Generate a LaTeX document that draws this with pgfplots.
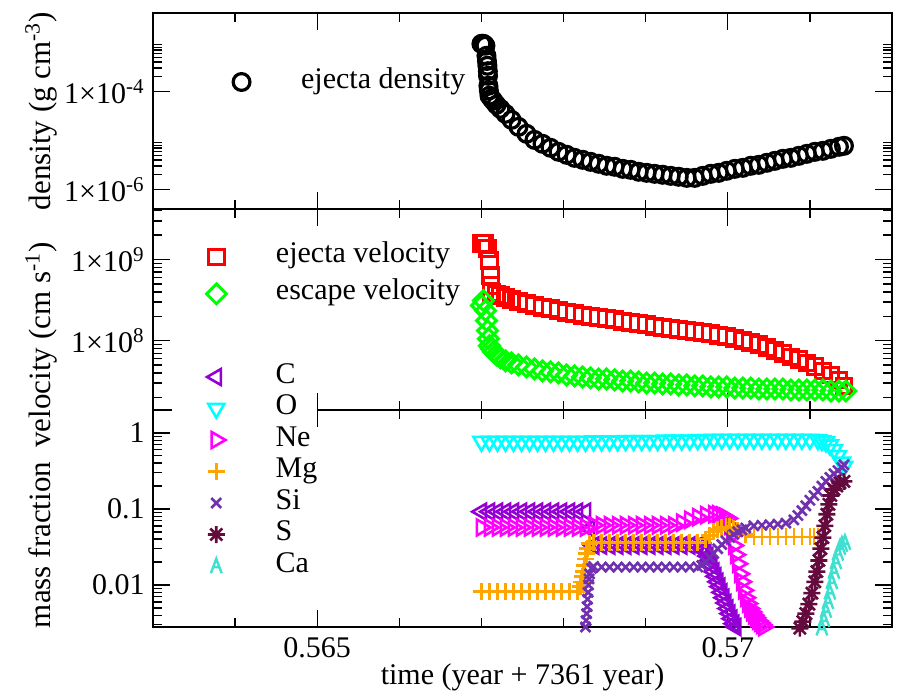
\documentclass[border=0pt]{standalone}
\usepackage{fontspec}
\setmainfont{Liberation Serif}
\usepackage{pgfplots}
\pgfplotsset{compat=1.18}
\definecolor{cC}{HTML}{9400D3}
\definecolor{cO}{HTML}{00FFFF}
\definecolor{cNe}{HTML}{FF00FF}
\definecolor{cMg}{HTML}{FFA500}
\definecolor{cSi}{HTML}{7030B0}
\definecolor{cS}{HTML}{640A3C}
\definecolor{cCa}{HTML}{40E0D0}
\definecolor{cR}{HTML}{FF0000}
\definecolor{cG}{HTML}{00FF00}
\pgfdeclareplotmark{gpstar}{%
  \pgfpathmoveto{\pgfqpoint{-\pgfplotmarksize}{0pt}}\pgfpathlineto{\pgfqpoint{\pgfplotmarksize}{0pt}}%
  \pgfpathmoveto{\pgfqpoint{0pt}{-\pgfplotmarksize}}\pgfpathlineto{\pgfqpoint{0pt}{\pgfplotmarksize}}%
  \pgfpathmoveto{\pgfqpoint{-0.7071\pgfplotmarksize}{-0.7071\pgfplotmarksize}}\pgfpathlineto{\pgfqpoint{0.7071\pgfplotmarksize}{0.7071\pgfplotmarksize}}%
  \pgfpathmoveto{\pgfqpoint{-0.7071\pgfplotmarksize}{0.7071\pgfplotmarksize}}\pgfpathlineto{\pgfqpoint{0.7071\pgfplotmarksize}{-0.7071\pgfplotmarksize}}%
  \pgfusepathqstroke}
\pgfdeclareplotmark{gpA}{%
  \pgfpathmoveto{\pgfqpoint{-0.75\pgfplotmarksize}{-\pgfplotmarksize}}%
  \pgfpathlineto{\pgfqpoint{0pt}{\pgfplotmarksize}}%
  \pgfpathlineto{\pgfqpoint{0.75\pgfplotmarksize}{-\pgfplotmarksize}}%
  \pgfpathmoveto{\pgfqpoint{-0.43\pgfplotmarksize}{-0.15\pgfplotmarksize}}%
  \pgfpathlineto{\pgfqpoint{0.43\pgfplotmarksize}{-0.15\pgfplotmarksize}}%
  \pgfusepathqstroke}
\pgfplotsset{
  legend image code/.code={\path (0pt,0pt) (50.5pt,0pt);\draw[mark repeat=2,mark phase=2,#1] plot coordinates {(0pt,0pt) (21.5pt,0pt) (43pt,0pt)};},
}
\pgfplotsset{
  myframe/.style={scale only axis, width=369.5pt, xmin=0.563, xmax=0.572,
    xtick={0.565,0.57}, minor xtick={0.564,0.566,0.567,0.568,0.569,0.571},
    major tick length=8.5pt, minor tick length=4.5pt,
    tick style={black,line width=0.7pt}, axis line style={line width=0.9pt},
    tick align=inside, legend cell align=left,
    yticklabel style={inner xsep=4pt}},
  mylegend/.style={legend style={draw=none, fill=none, inner sep=0pt, outer sep=0pt, anchor=north west,
      nodes={inner sep=0pt, text height=10pt, text depth=4pt}}},
}
\begin{document}
\fontsize{15}{18}\selectfont
\begin{tikzpicture}[font=\fontsize{15}{18}\selectfont]
\useasboundingbox (0,0) rectangle (450.5pt,346pt);
% ---------------- panel 1: density
\begin{semilogyaxis}[myframe, mylegend, at={(76.5pt,339.5pt)}, anchor=north west, height=98pt,
  ymin=4e-7, ymax=4e-3, xticklabels={},
  ytick={1e-6,1e-4}, yticklabels={1×10\textsuperscript{-6},1×10\textsuperscript{-4}},
  minor ytick={2e-6,3e-6,4e-6,5e-6,6e-6,7e-6,8e-6,9e-6,2e-4,3e-4,4e-4,5e-4,6e-4,7e-4,8e-4,9e-4},
  legend style={at={(0.0595,0.7194)}}]
\addplot[only marks, mark=o, mark size=4.2pt, line width=1.6pt, black] coordinates {
(0.567000,9.4e-4) (0.567012,9.4e-4) (0.567024,9.4e-4) (0.567037,9.0e-4) (0.567049,8.6e-4)
(0.567061,5.35e-4) (0.567067,4.2e-4) (0.567073,3.35e-4) (0.567078,2.6e-4) (0.567080,2.09e-4)
(0.567085,1.31e-4) (0.567090,1.05e-4) (0.567098,8.2e-5) (0.567122,7.2e-5) (0.567146,6.46e-5)
(0.567183,5.35e-5) (0.567232,4.43e-5) (0.567293,3.51e-5) (0.567366,2.64e-5) (0.567451,1.90e-5)
(0.567549,1.37e-5) (0.567646,1.03e-5) (0.567744,8.56e-6) (0.567841,7.10e-6) (0.567939,5.88e-6)
(0.568037,5.11e-6) (0.568134,4.43e-6) (0.568232,4.04e-6) (0.568329,3.67e-6) (0.568427,3.35e-6)
(0.568524,3.05e-6) (0.568622,2.91e-6) (0.568720,2.64e-6) (0.568817,2.52e-6) (0.568915,2.30e-6)
(0.569012,2.19e-6) (0.569110,2.09e-6) (0.569207,2.00e-6) (0.569305,1.90e-6) (0.569402,1.82e-6)
(0.569500,1.73e-6) (0.569598,1.73e-6) (0.569695,1.90e-6) (0.569793,2.09e-6) (0.569890,2.19e-6)
(0.569988,2.41e-6) (0.570085,2.64e-6) (0.570183,2.77e-6) (0.570280,3.05e-6) (0.570378,3.19e-6)
(0.570476,3.51e-6) (0.570573,3.85e-6) (0.570671,4.23e-6) (0.570768,4.43e-6) (0.570866,4.87e-6)
(0.570963,5.35e-6) (0.571061,5.88e-6) (0.571159,6.16e-6) (0.571256,6.77e-6) (0.571354,7.44e-6)
(0.571415,7.80e-6)};
\addlegendentry{ejecta density}
\end{semilogyaxis}
% ---------------- panel 2: velocity
\begin{semilogyaxis}[myframe, mylegend, at={(76.5pt,241.5pt)}, anchor=north west, height=100.5pt,
  ymin=1.4e7, ymax=4.2e9, xticklabels={},
  ytick={1e8,1e9}, yticklabels={1×10\textsuperscript{8},1×10\textsuperscript{9}},
  minor ytick={2e7,3e7,4e7,5e7,6e7,7e7,8e7,9e7,2e8,3e8,4e8,5e8,6e8,7e8,8e8,9e8,2e9,3e9,4e9},
  legend style={at={(0.0257,0.831)}, row sep=4.5pt}]
\addplot[only marks, mark=square, mark size=3.9pt, line width=1.5pt, cR] coordinates {
(0.567000,1.59e9) (0.567037,1.59e9) (0.567073,1.38e9) (0.567098,9.8e8) (0.567110,6.39e8)
(0.567116,4.80e8) (0.567122,3.93e8) (0.567183,3.72e8) (0.567232,3.61e8) (0.567293,3.41e8)
(0.567366,3.22e8) (0.567451,3.04e8) (0.567549,2.87e8) (0.567646,2.72e8) (0.567744,2.56e8)
(0.567841,2.49e8) (0.567939,2.35e8) (0.568037,2.22e8) (0.568134,2.16e8) (0.568232,2.04e8)
(0.568329,1.98e8) (0.568427,1.93e8) (0.568524,1.87e8) (0.568622,1.82e8) (0.568720,1.72e8)
(0.568817,1.67e8) (0.568915,1.62e8) (0.569012,1.58e8) (0.569110,1.49e8) (0.569207,1.45e8)
(0.569305,1.41e8) (0.569402,1.37e8) (0.569500,1.33e8) (0.569598,1.29e8) (0.569695,1.26e8)
(0.569793,1.22e8) (0.569890,1.15e8) (0.569988,1.12e8) (0.570085,1.06e8) (0.570183,1.00e8)
(0.570280,9.45e7) (0.570378,8.92e7) (0.570476,8.19e7) (0.570573,7.52e7) (0.570671,6.90e7)
(0.570768,6.33e7) (0.570866,5.82e7) (0.570963,5.34e7) (0.571061,4.77e7) (0.571159,4.25e7)
(0.571256,3.79e7) (0.571354,3.28e7) (0.571415,2.77e7)};
\addlegendentry{ejecta velocity}
\addplot[only marks, mark=square, mark size=3.5pt, mark options={rotate=45}, line width=1.5pt, cG] coordinates {
(0.567000,2.72e8) (0.567024,3.13e8) (0.567049,2.35e8) (0.567061,1.77e8) (0.567073,1.33e8)
(0.567085,1.06e8) (0.567098,8.67e7) (0.567122,7.96e7) (0.567146,7.31e7) (0.567183,6.71e7)
(0.567232,6.16e7) (0.567293,5.65e7) (0.567366,5.34e7) (0.567451,5.04e7) (0.567549,4.76e7)
(0.567646,4.50e7) (0.567744,4.25e7) (0.567841,4.13e7) (0.567939,4.01e7) (0.568037,3.79e7)
(0.568134,3.68e7) (0.568232,3.58e7) (0.568329,3.48e7) (0.568427,3.38e7) (0.568524,3.38e7)
(0.568622,3.29e7) (0.568720,3.19e7) (0.568817,3.19e7) (0.568915,3.10e7) (0.569012,3.01e7)
(0.569110,3.01e7) (0.569207,2.93e7) (0.569305,2.93e7) (0.569402,2.85e7) (0.569500,2.85e7)
(0.569598,2.77e7) (0.569695,2.77e7) (0.569793,2.69e7) (0.569890,2.69e7) (0.569988,2.69e7)
(0.570085,2.61e7) (0.570183,2.61e7) (0.570280,2.61e7) (0.570378,2.54e7) (0.570476,2.54e7)
(0.570573,2.54e7) (0.570671,2.54e7) (0.570768,2.47e7) (0.570866,2.47e7) (0.570963,2.47e7)
(0.571061,2.47e7) (0.571159,2.47e7) (0.571256,2.40e7) (0.571354,2.40e7) (0.571439,2.40e7)};
\addlegendentry{escape velocity}
\end{semilogyaxis}
% ---------------- panel 3: mass fraction
\begin{semilogyaxis}[myframe, mylegend, at={(76.5pt,141pt)}, anchor=north west, height=108.5pt, clip=false,
  ymin=0.0028, ymax=2, xticklabels={0.565,0.57},
  ytick={0.01,0.1,1}, yticklabels={0.01,0.1,1},
  minor ytick={0.003,0.004,0.005,0.006,0.007,0.008,0.009,0.02,0.03,0.04,0.05,0.06,0.07,0.08,0.09,0.2,0.3,0.4,0.5,0.6,0.7,0.8,0.9,2},
  legend style={at={(0.0257,1.2166)}, row sep=1.75pt, fill=white}]
\addplot[only marks, mark=triangle, mark size=4.6pt, mark options={rotate=90}, line width=1.3pt, cC] coordinates {
(0.567000,0.092) (0.567098,0.092) (0.567195,0.092) (0.567293,0.092) (0.567390,0.092)
(0.567488,0.092) (0.567585,0.092) (0.567683,0.092) (0.567780,0.092) (0.567878,0.092)
(0.567976,0.092) (0.568073,0.092) (0.568171,0.092) (0.568268,0.092) (0.568317,0.055)
(0.568366,0.033) (0.568463,0.033) (0.568561,0.033) (0.568659,0.033) (0.568756,0.033)
(0.568854,0.033) (0.568951,0.033) (0.569049,0.033) (0.569146,0.033) (0.569244,0.033)
(0.569341,0.033) (0.569439,0.033) (0.569537,0.033) (0.569634,0.033) (0.569683,0.031)
(0.569707,0.029) (0.569732,0.027) (0.569756,0.024) (0.569780,0.021) (0.569805,0.018)
(0.569829,0.015) (0.569854,0.013) (0.569878,0.011) (0.569902,0.0095) (0.569927,0.0080)
(0.569951,0.0068) (0.569976,0.0058) (0.570000,0.0049) (0.570024,0.0042) (0.570049,0.0036)
(0.570073,0.0031) (0.570098,0.0028)};
\addlegendentry{C}
\addplot[only marks, mark=triangle, mark size=4.6pt, mark options={rotate=180}, line width=1.3pt, cO] coordinates {
(0.567000,0.77) (0.567098,0.77) (0.567195,0.77) (0.567293,0.77) (0.567390,0.77)
(0.567488,0.77) (0.567585,0.77) (0.567683,0.77) (0.567780,0.77) (0.567878,0.77)
(0.567976,0.77) (0.568073,0.77) (0.568171,0.77) (0.568268,0.77) (0.568366,0.78)
(0.568463,0.78) (0.568561,0.78) (0.568659,0.78) (0.568756,0.79) (0.568854,0.79)
(0.568951,0.79) (0.569049,0.79) (0.569146,0.79) (0.569244,0.80) (0.569341,0.80)
(0.569439,0.80) (0.569537,0.80) (0.569634,0.81) (0.569732,0.81) (0.569829,0.82)
(0.569927,0.82) (0.570024,0.82) (0.570122,0.82) (0.570219,0.82) (0.570317,0.82)
(0.570415,0.82) (0.570512,0.82) (0.570610,0.82) (0.570707,0.82) (0.570805,0.82)
(0.570902,0.82) (0.571000,0.82) (0.571098,0.81) (0.571146,0.79) (0.571195,0.76)
(0.571244,0.69) (0.571293,0.60) (0.571341,0.50) (0.571390,0.41) (0.571415,0.36)};
\addlegendentry{O}
\addplot[only marks, mark=triangle, mark size=4.6pt, mark options={rotate=-90}, line width=1.3pt, cNe] coordinates {
(0.567000,0.057) (0.567098,0.057) (0.567195,0.057) (0.567293,0.057) (0.567390,0.057)
(0.567488,0.057) (0.567585,0.057) (0.567683,0.057) (0.567780,0.057) (0.567878,0.057)
(0.567976,0.057) (0.568073,0.057) (0.568171,0.057) (0.568268,0.057) (0.568366,0.061)
(0.568463,0.061) (0.568561,0.061) (0.568659,0.061) (0.568756,0.061) (0.568854,0.061)
(0.568951,0.061) (0.569049,0.061) (0.569146,0.061) (0.569244,0.061) (0.569341,0.061)
(0.569439,0.066) (0.569537,0.072) (0.569634,0.078) (0.569732,0.083) (0.569829,0.085)
(0.569878,0.085) (0.569927,0.082) (0.569963,0.079) (0.570000,0.075) (0.570024,0.060)
(0.570049,0.045) (0.570073,0.033) (0.570098,0.025) (0.570122,0.019) (0.570146,0.014)
(0.570171,0.011) (0.570195,0.0085) (0.570219,0.0068) (0.570244,0.0057) (0.570268,0.0049)
(0.570293,0.0044) (0.570317,0.0040) (0.570341,0.0037) (0.570366,0.0034) (0.570390,0.0032)
(0.570415,0.0030) (0.570439,0.0028)};
\addlegendentry{Ne}
\addplot[only marks, mark=+, mark size=4.25pt, line width=1.3pt, cMg] coordinates {
(0.567000,0.0082) (0.567098,0.0082) (0.567195,0.0082) (0.567293,0.0082) (0.567390,0.0082)
(0.567488,0.0082) (0.567585,0.0082) (0.567683,0.0082) (0.567780,0.0082) (0.567878,0.0082)
(0.567976,0.0082) (0.568073,0.0082) (0.568171,0.0082) (0.568207,0.0095) (0.568219,0.011)
(0.568232,0.013) (0.568244,0.015) (0.568256,0.018) (0.568268,0.022) (0.568280,0.026)
(0.568293,0.030) (0.568317,0.035) (0.568366,0.036) (0.568463,0.036)
(0.568561,0.036) (0.568659,0.036) (0.568756,0.036) (0.568854,0.036) (0.568951,0.036)
(0.569049,0.036) (0.569146,0.036) (0.569244,0.036) (0.569341,0.036) (0.569439,0.036)
(0.569537,0.036) (0.569634,0.036) (0.569732,0.040) (0.569780,0.045) (0.569829,0.050)
(0.569878,0.054) (0.569927,0.057) (0.569976,0.058) (0.570024,0.058) (0.570073,0.055)
(0.570122,0.052) (0.570219,0.046) (0.570317,0.043) (0.570415,0.043)
(0.570512,0.043) (0.570610,0.043) (0.570707,0.043) (0.570805,0.043) (0.570902,0.043)
(0.571000,0.043) (0.571049,0.043) (0.571098,0.043)};
\addlegendentry{Mg}
\addplot[only marks, mark=x, mark size=3.5pt, line width=1.3pt, cSi] coordinates {
(0.568268,0.0028) (0.568274,0.0034) (0.568280,0.0042) (0.568287,0.0052) (0.568293,0.0065)
(0.568299,0.0080) (0.568305,0.010) (0.568311,0.012) (0.568317,0.014) (0.568342,0.0165)
(0.568366,0.0175) (0.568463,0.0172) (0.568561,0.0172) (0.568659,0.0172) (0.568756,0.0172)
(0.568854,0.0172) (0.568951,0.0172) (0.569049,0.0172) (0.569146,0.0172) (0.569244,0.0172)
(0.569341,0.0172) (0.569439,0.0172) (0.569537,0.0172) (0.569634,0.0172) (0.569683,0.018)
(0.569732,0.020) (0.569780,0.023) (0.569829,0.026) (0.569878,0.030) (0.569927,0.034)
(0.569976,0.038) (0.570024,0.042) (0.570073,0.046) (0.570122,0.050) (0.570171,0.053)
(0.570219,0.056) (0.570317,0.060) (0.570415,0.061) (0.570512,0.062) (0.570610,0.063)
(0.570707,0.065) (0.570805,0.072) (0.570854,0.082) (0.570902,0.095) (0.570951,0.11)
(0.571000,0.13) (0.571049,0.15) (0.571098,0.17) (0.571146,0.20) (0.571195,0.23)
(0.571244,0.26) (0.571293,0.29) (0.571341,0.32) (0.571390,0.35) (0.571415,0.38)};
\addlegendentry{Si}
\addplot[only marks, mark=gpstar, mark size=4.25pt, line width=1.3pt, cS] coordinates {
(0.570878,0.0027) (0.570915,0.0033) (0.570951,0.0042) (0.570988,0.0056) (0.571024,0.0078)
(0.571061,0.011) (0.571085,0.015) (0.571110,0.021) (0.571134,0.030) (0.571159,0.042)
(0.571183,0.060) (0.571207,0.085) (0.571232,0.115) (0.571256,0.15) (0.571293,0.18)
(0.571329,0.20) (0.571366,0.22) (0.571415,0.23)};
\addlegendentry{S}
\addplot[only marks, mark=gpA, mark size=3.6pt, line width=1.2pt, cCa] coordinates {
(0.571146,0.0027) (0.571171,0.0035) (0.571195,0.0046) (0.571220,0.0060) (0.571244,0.0080)
(0.571268,0.011) (0.571293,0.015) (0.571317,0.020) (0.571341,0.026) (0.571366,0.031)
(0.571390,0.034) (0.571427,0.036)};
\addlegendentry{Ca}
\end{semilogyaxis}
\node[rotate=90, anchor=base, font=\fontsize{15.5}{18}\selectfont] at (25pt,290.5pt) {density (g cm\textsuperscript{-3})};
\node[rotate=90, anchor=base, font=\fontsize{15.5}{18}\selectfont] at (25pt,173.5pt) {velocity (cm s\textsuperscript{-1})};
\node[rotate=90, anchor=base, font=\fontsize{15.5}{18}\selectfont] at (25pt,73.5pt) {mass fraction};
\node[anchor=base] at (261.25pt,4pt) {time (year + 7361 year)};
\end{tikzpicture}
\end{document}
